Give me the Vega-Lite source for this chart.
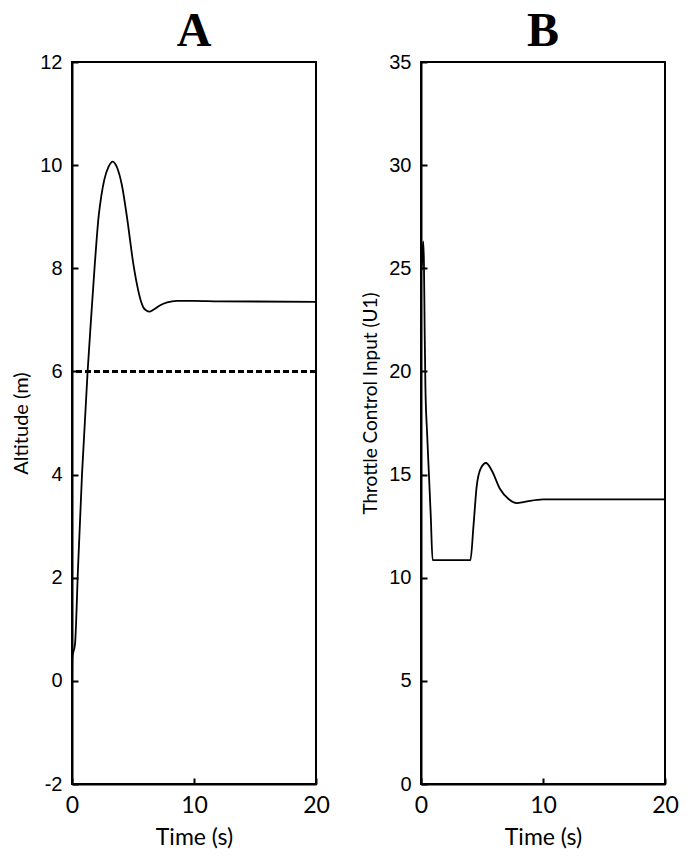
{
  "$schema": "https://vega.github.io/schema/vega-lite/v6.json",
  "background": "white",
  "padding": {"left": 10, "top": 7, "right": 10, "bottom": 5},
  "config": {
    "view": {"stroke": "black", "strokeWidth": 2},
    "axis": {
      "grid": false,
      "domainColor": "black",
      "domainWidth": 2,
      "tickColor": "black",
      "tickWidth": 2,
      "tickSize": -6,
      "labelColor": "black",
      "titleColor": "black",
      "titleFontWeight": "normal",
      "labelFlush": false,
      "labelOverlap": false,
      "labelExpr": "'' + datum.value"
    },
    "axisY": {"labelFont": "Liberation Sans", "labelFontSize": 20, "labelPadding": 16, "titleFont": "Lato", "titleFontSize": 20, "titlePadding": 8},
    "axisX": {"labelFont": "Lato", "labelFontSize": 23, "labelPadding": 16, "titleFont": "Lato", "titleFontSize": 23, "titlePadding": 9},
    "title": {"font": "Liberation Serif", "fontSize": 48, "fontWeight": "bold", "color": "black", "anchor": "middle", "offset": -4}
  },
  "spacing": 29,
  "hconcat": [
    {
      "title": "A",
      "width": 244,
      "height": 722,
      "data": {"values": [
        {"t": 0, "v": 0}, {"t": 0.03, "v": 0.45}, {"t": 0.25, "v": 0.72}, {"t": 0.49, "v": 2.17},
        {"t": 0.82, "v": 4.0}, {"t": 1.28, "v": 6.0}, {"t": 1.6, "v": 7.15}, {"t": 1.86, "v": 8.05}, {"t": 2.19, "v": 9.02},
        {"t": 2.4, "v": 9.4}, {"t": 2.65, "v": 9.72}, {"t": 3.0, "v": 9.97}, {"t": 3.33, "v": 10.07},
        {"t": 3.7, "v": 9.95}, {"t": 4.1, "v": 9.6}, {"t": 4.5, "v": 9.0}, {"t": 5.05, "v": 8.05},
        {"t": 5.4, "v": 7.6}, {"t": 5.68, "v": 7.34}, {"t": 5.85, "v": 7.24}, {"t": 6.1, "v": 7.18},
        {"t": 6.34, "v": 7.16}, {"t": 6.7, "v": 7.2}, {"t": 7.2, "v": 7.28}, {"t": 7.8, "v": 7.34},
        {"t": 8.6, "v": 7.37}, {"t": 10, "v": 7.37}, {"t": 12, "v": 7.36}, {"t": 20, "v": 7.35}
      ]},
      "layer": [
        {
          "mark": {"type": "line", "color": "black", "strokeWidth": 1.8, "interpolate": "monotone"},
          "encoding": {
            "x": {"field": "t", "type": "quantitative", "scale": {"domain": [0, 20], "nice": false}, "axis": {"values": [0, 10, 20], "title": "Time (s)"}},
            "y": {"field": "v", "type": "quantitative", "scale": {"domain": [-2, 12], "nice": false}, "axis": {"values": [-2, 0, 2, 4, 6, 8, 10, 12], "title": "Altitude (m)"}}
          }
        },
        {
          "mark": {"type": "rule", "color": "black", "strokeWidth": 1.5, "strokeDash": [6, 3]},
          "encoding": {"y": {"datum": 6}}
        }
      ]
    },
    {
      "title": "B",
      "width": 244,
      "height": 722,
      "data": {"values": [
        {"t": 0, "v": 24.8}, {"t": 0.1, "v": 25.4}, {"t": 0.18, "v": 26.3}, {"t": 0.24, "v": 25.3},
        {"t": 0.3, "v": 22.0}, {"t": 0.36, "v": 19.3}, {"t": 0.5, "v": 17.0}, {"t": 0.65, "v": 15.0},
        {"t": 0.8, "v": 13.0}, {"t": 0.95, "v": 10.85}, {"t": 4.05, "v": 10.85}, {"t": 4.3, "v": 12.5},
        {"t": 4.56, "v": 14.4}, {"t": 4.9, "v": 15.3}, {"t": 5.33, "v": 15.56}, {"t": 5.8, "v": 15.2},
        {"t": 6.48, "v": 14.3}, {"t": 7.2, "v": 13.8}, {"t": 7.85, "v": 13.62}, {"t": 8.5, "v": 13.68},
        {"t": 10, "v": 13.8}, {"t": 20, "v": 13.8}
      ]},
      "mark": {"type": "line", "color": "black", "strokeWidth": 1.8, "interpolate": "monotone"},
      "encoding": {
        "x": {"field": "t", "type": "quantitative", "scale": {"domain": [0, 20], "nice": false}, "axis": {"values": [0, 10, 20], "title": "Time (s)"}},
        "y": {"field": "v", "type": "quantitative", "scale": {"domain": [0, 35], "nice": false}, "axis": {"values": [0, 5, 10, 15, 20, 25, 30, 35], "title": "Throttle Control Input (U1)", "titleFontSize": 19, "titleY": 341}}
      }
    }
  ]
}
